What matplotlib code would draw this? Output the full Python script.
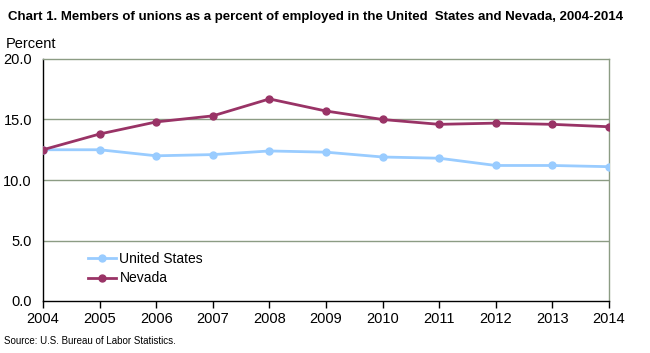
import matplotlib
matplotlib.use("Agg")
import matplotlib.pyplot as plt

years = [2004, 2005, 2006, 2007, 2008, 2009, 2010, 2011, 2012, 2013, 2014]
us = [12.5, 12.5, 12.0, 12.1, 12.4, 12.3, 11.9, 11.8, 11.2, 11.2, 11.1]
nevada = [12.5, 13.8, 14.8, 15.3, 16.7, 15.7, 15.0, 14.6, 14.7, 14.6, 14.4]
yticks = [0.0, 5.0, 10.0, 15.0, 20.0]

plt.rcParams['font.family'] = ['Liberation Sans', 'DejaVu Sans']

W, H = 650, 353
fig = plt.figure(figsize=(W / 100, H / 100), dpi=100)
ax = fig.add_axes([43 / W, (H - 301) / H, (609 - 43) / W, (301 - 59) / H])

grid_c = '#8C9C84'
for v in yticks[1:-1]:
    ax.axhline(v, color=grid_c, lw=1, zorder=1)

ax.plot(years, us, color='#99CCFF', lw=2, marker='o', ms=5, label='United States', zorder=3)
ax.plot(years, nevada, color='#993366', lw=2, marker='o', ms=5, label='Nevada', zorder=4)

ax.set_xlim(2004, 2014)
ax.set_ylim(0, 20)
ax.set_xticks(years)
ax.set_xticklabels([str(y) for y in years], fontsize=10.5)
ax.set_yticks(yticks)
ax.set_yticklabels([f'{v:.1f}' for v in yticks], fontsize=10.5)
ax.tick_params(axis='y', length=0, pad=8)
ax.tick_params(axis='x', length=5, width=1, direction='out', pad=3, color='black')

ax.spines['left'].set_color('black')
ax.spines['bottom'].set_color('black')
ax.spines['top'].set_color(grid_c)
ax.spines['right'].set_color(grid_c)
for s in ax.spines.values():
    s.set_linewidth(1)

leg = ax.legend(loc='upper left', bbox_to_anchor=(0.07, 0.226), frameon=False,
                fontsize=10, handlelength=2.0, handletextpad=0.25, labelspacing=0.4,
                borderaxespad=0)

fig.text(8 / W, 1 - 17 / H, 'Chart 1. Members of unions as a percent of employed in the United  States and Nevada, 2004-2014',
         fontsize=9.5, fontweight='bold', va='center', ha='left')
fig.text(6 / W, 1 - 44 / H, 'Percent', fontsize=10.5, va='center', ha='left')
fig.text(4 / W, 1 - 341 / H, 'Source: U.S. Bureau of Labor Statistics.', fontsize=7, va='center', ha='left')

fig.savefig('out.png', dpi=100)
